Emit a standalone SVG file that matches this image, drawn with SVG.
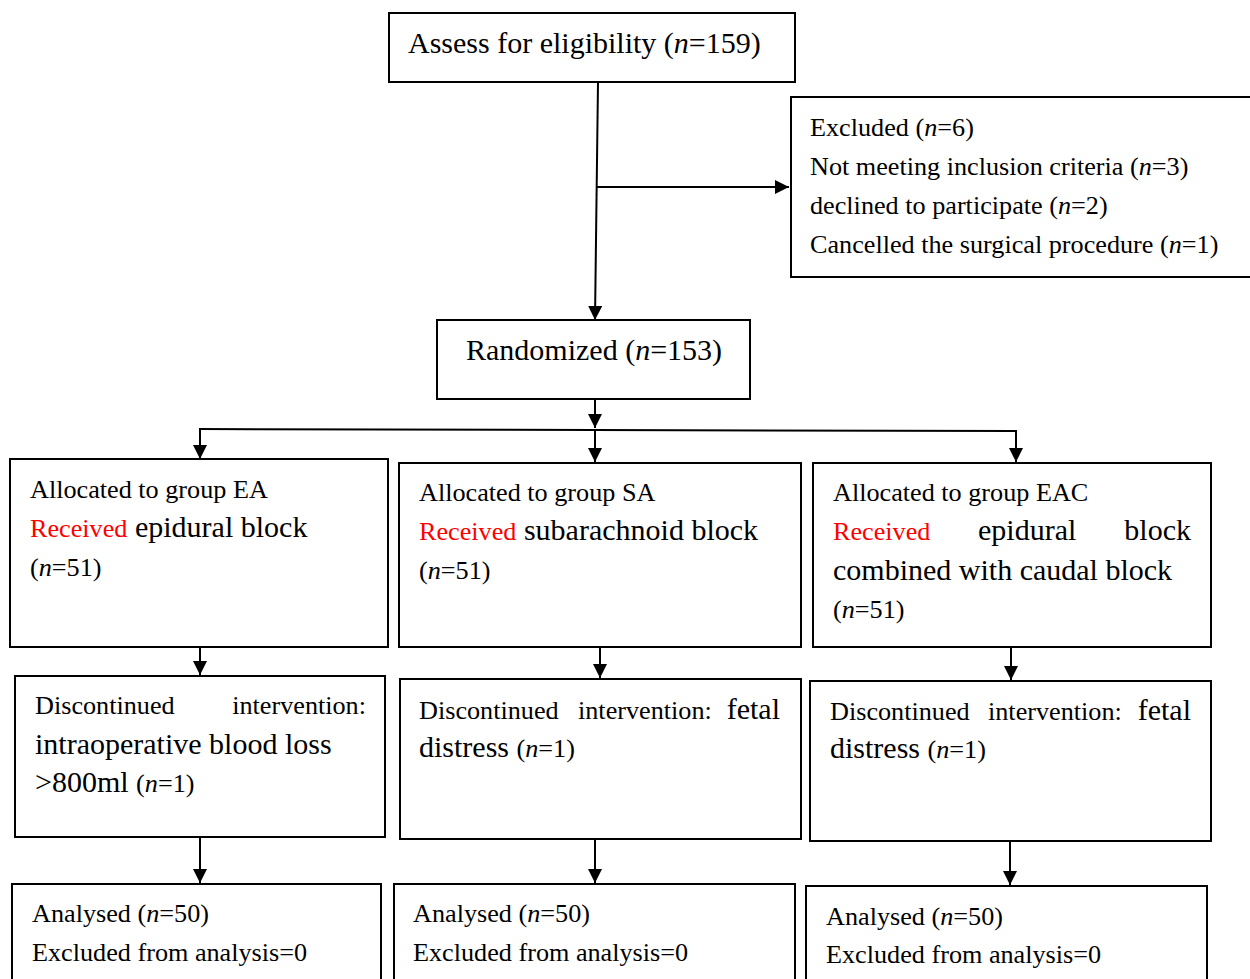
<svg xmlns="http://www.w3.org/2000/svg" width="1250" height="979" viewBox="0 0 1250 979">
<style>
text{font-family:"Liberation Serif","Times New Roman",serif;fill:#000}
.s{font-size:26.2px}
.l{font-size:30px}
.red{fill:#ff0000}
.i{font-style:italic}
.box{fill:#fff;stroke:#000;stroke-width:2}
.c{fill:none;stroke:#000;stroke-width:2}
</style>
<defs>
<marker id="ah" markerWidth="14" markerHeight="14" refX="14" refY="7" orient="auto" markerUnits="userSpaceOnUse">
<path d="M0,0 L14,7 L0,14 z" fill="#000"/>
</marker>
</defs>
<rect width="1250" height="979" fill="#fff"/>
<g id="connectors">
<path class="c" d="M598,82 L595,320" marker-end="url(#ah)"/>
<path class="c" d="M597,187 L789,187" marker-end="url(#ah)"/>
<path class="c" d="M595,399 L595,428" marker-end="url(#ah)"/>
<path class="c" d="M199,429 L1017,431"/>
<path class="c" d="M200,429 L200,459" marker-end="url(#ah)"/>
<path class="c" d="M595,430 L595,462" marker-end="url(#ah)"/>
<path class="c" d="M1016,431 L1016,462" marker-end="url(#ah)"/>
<path class="c" d="M200,647 L200,675" marker-end="url(#ah)"/>
<path class="c" d="M600,647 L600,678" marker-end="url(#ah)"/>
<path class="c" d="M1011,647 L1011,680" marker-end="url(#ah)"/>
<path class="c" d="M200,837 L200,883" marker-end="url(#ah)"/>
<path class="c" d="M595,839 L595,883" marker-end="url(#ah)"/>
<path class="c" d="M1010,841 L1010,885" marker-end="url(#ah)"/>
</g>
<g id="assess">
<rect class="box" x="389" y="13" width="406" height="69"/>
<text class="l" x="408" y="53">Assess for eligibility (<tspan class="i">n</tspan>=159)</text>
</g>
<g id="excluded">
<rect class="box" x="791" y="97" width="470" height="180"/>
<text class="s" x="810" y="136">Excluded (<tspan class="i">n</tspan>=6)</text>
<text class="s" x="810" y="175">Not meeting inclusion criteria (<tspan class="i">n</tspan>=3)</text>
<text class="s" x="810" y="214">declined to participate (<tspan class="i">n</tspan>=2)</text>
<text class="s" x="810" y="253">Cancelled the surgical procedure (<tspan class="i">n</tspan>=1)</text>
</g>
<g id="randomized">
<rect class="box" x="437" y="320" width="313" height="79"/>
<text class="l" x="466" y="360">Randomized (<tspan class="i">n</tspan>=153)</text>
</g>
<g id="alloc-ea">
<rect class="box" x="10" y="459" width="378" height="188"/>
<text class="s" x="30" y="498">Allocated to group EA</text>
<text x="30" y="537"><tspan class="s red">Received</tspan><tspan class="l"> epidural block</tspan></text>
<text class="s" x="30" y="576">(<tspan class="i">n</tspan>=51)</text>
</g>
<g id="alloc-sa">
<rect class="box" x="399" y="463" width="402" height="184"/>
<text class="s" x="419" y="501">Allocated to group SA</text>
<text x="419" y="540"><tspan class="s red">Received</tspan><tspan class="l"> subarachnoid block</tspan></text>
<text class="s" x="419" y="579">(<tspan class="i">n</tspan>=51)</text>
</g>
<g id="alloc-eac">
<rect class="box" x="813" y="463" width="398" height="184"/>
<text class="s" x="833" y="501">Allocated to group EAC</text>
<text class="s red" x="833" y="540">Received</text>
<text class="l" x="978" y="540">epidural</text>
<text class="l" x="1191" y="540" text-anchor="end">block</text>
<text class="l" x="833" y="580">combined with caudal block</text>
<text class="s" x="833" y="618">(<tspan class="i">n</tspan>=51)</text>
</g>
<g id="disc-ea">
<rect class="box" x="15" y="676" width="370" height="161"/>
<text class="s" x="35" y="714">Discontinued</text>
<text class="s" x="366" y="714" text-anchor="end">intervention:</text>
<text class="l" x="35" y="754">intraoperative blood loss</text>
<text x="35" y="792"><tspan class="l">&gt;800ml </tspan><tspan class="s">(<tspan class="i">n</tspan>=1)</tspan></text>
</g>
<g id="disc-sa">
<rect class="box" x="400" y="679" width="401" height="160"/>
<text class="s" x="419" y="719">Discontinued</text>
<text class="s" x="578" y="719">intervention:</text>
<text class="l" x="780" y="719" text-anchor="end">fetal</text>
<text x="419" y="757"><tspan class="l">distress </tspan><tspan class="s">(<tspan class="i">n</tspan>=1)</tspan></text>
</g>
<g id="disc-eac">
<rect class="box" x="810" y="681" width="401" height="160"/>
<text class="s" x="830" y="720">Discontinued</text>
<text class="s" x="988" y="720">intervention:</text>
<text class="l" x="1191" y="720" text-anchor="end">fetal</text>
<text x="830" y="758"><tspan class="l">distress </tspan><tspan class="s">(<tspan class="i">n</tspan>=1)</tspan></text>
</g>
<g id="analysed-ea">
<rect class="box" x="12" y="884" width="369" height="120"/>
<text class="s" x="32" y="922">Analysed (<tspan class="i">n</tspan>=50)</text>
<text class="s" x="32" y="961">Excluded from analysis=0</text>
</g>
<g id="analysed-sa">
<rect class="box" x="394" y="884" width="401" height="120"/>
<text class="s" x="413" y="922">Analysed (<tspan class="i">n</tspan>=50)</text>
<text class="s" x="413" y="961">Excluded from analysis=0</text>
</g>
<g id="analysed-eac">
<rect class="box" x="806" y="886" width="401" height="120"/>
<text class="s" x="826" y="925">Analysed (<tspan class="i">n</tspan>=50)</text>
<text class="s" x="826" y="963">Excluded from analysis=0</text>
</g>
</svg>
